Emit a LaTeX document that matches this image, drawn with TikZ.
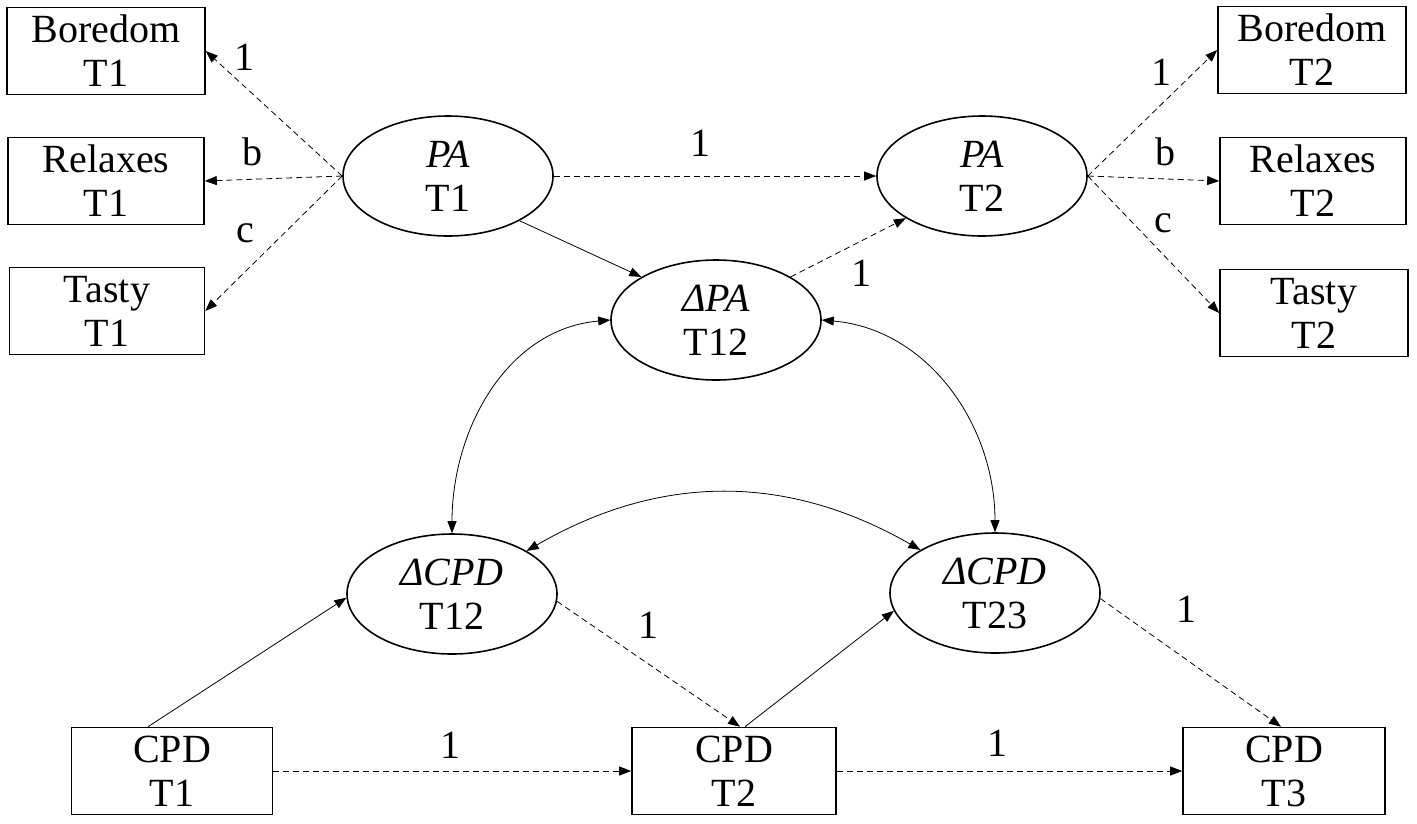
\documentclass[tikz,border=0pt]{standalone}
\usepackage{fontspec}
\setmainfont{Liberation Serif}
\newfontfamily\tnr{Liberation Serif}
\usetikzlibrary{arrows.meta,shapes.geometric}
\begin{document}
\begin{tikzpicture}[x=1pt,y=1pt,
  box/.style={draw,line width=1.6pt,minimum height=87pt,inner sep=0pt,align=center,font=\tnr\fontsize{40}{44}\selectfont},
  ellip/.style={draw,ellipse,line width=1.6pt,minimum width=210pt,minimum height=120pt,inner sep=0pt,align=center,font=\tnr\fontsize{40}{44}\selectfont},
  lab/.style={inner sep=0pt,font=\tnr\fontsize{40}{44}\selectfont},
  tip/.tip={Triangle[length=12pt,width=9pt]},
  dasharr/.style={dash pattern=on 6pt off 4pt,line width=0.8pt,-tip},
  solarr/.style={line width=0.8pt,-tip},
  biarr/.style={line width=0.8pt,tip-tip}]
\useasboundingbox (0,0) rectangle (1417,-823);
% observed boxes
\node[box,minimum width=198pt] (bor1) at (106,-51) {Boredom\\T1};
\node[box,minimum width=196pt] (rel1) at (106,-181) {Relaxes\\T1};
\node[box,minimum width=195pt] (tas1) at (107,-311) {Tasty\\T1};
\node[box,minimum width=188pt] (bor2) at (1312,-50) {Boredom\\T2};
\node[box,minimum width=186pt] (rel2) at (1313,-181) {Relaxes\\T2};
\node[box,minimum width=188pt] (tas2) at (1314,-313) {Tasty\\T2};
\node[box,minimum width=201pt] (cpd1) at (172,-771) {CPD\\T1};
\node[box,minimum width=204pt] (cpd2) at (734,-771) {CPD\\T2};
\node[box,minimum width=202pt] (cpd3) at (1284,-771) {CPD\\T3};
% latent ellipses
\node[ellip] (pa1) at (448,-176) {\textit{PA}\\T1};
\node[ellip] (pa2) at (982,-176) {\textit{PA}\\T2};
\node[ellip] (dpa) at (716,-320) {\textit{ΔPA}\\T12};
\node[ellip] (dcpd1) at (452,-594) {\textit{ΔCPD}\\T12};
\node[ellip] (dcpd2) at (995,-593) {\textit{ΔCPD}\\T23};
% loadings
\draw[dasharr] (pa1.west) -- (bor1.east);
\draw[dasharr] (pa1.west) -- (rel1.east);
\draw[dasharr] (pa1.west) -- (tas1.east);
\draw[dasharr] (pa2.east) -- (bor2.west);
\draw[dasharr] (pa2.east) -- (rel2.west);
\draw[dasharr] (pa2.east) -- (tas2.west);
\draw[dasharr] (pa1.east) -- (pa2.west);
\draw[solarr] (pa1.-32) -- (dpa.150);
\draw[dasharr] (dpa.30) -- (pa2.209);
% covariances
\draw[biarr] (dpa.west) to[out=185,in=90] (dcpd1.north);
\draw[biarr] (dpa.east) to[out=-5,in=90] (dcpd2.north);
\draw[biarr] (dcpd1.30) to[bend left=30] (dcpd2.150);
% CPD paths
\draw[solarr] ([xshift=-24pt]cpd1.north) -- (dcpd1.182);
\draw[dasharr] (dcpd1.-4) -- ([xshift=6pt]cpd2.north);
\draw[solarr] ([xshift=11pt]cpd2.north) -- (dcpd2.190);
\draw[dasharr] (dcpd2.-3) -- ([xshift=-3pt]cpd3.north);
\draw[dasharr] (cpd1.east) -- (cpd2.west);
\draw[dasharr] (cpd2.east) -- (cpd3.west);
% labels
\node[lab] (l1) at (244,-57) {1};
\node[lab] (l2) at (252,-152) {b};
\node[lab] (l3) at (245,-233) {c};
\node[lab] (l4) at (700,-143) {1};
\node[lab] (l5) at (1161,-72) {1};
\node[lab] (l6) at (1165,-152) {b};
\node[lab] (l7) at (1163,-223) {c};
\node[lab] (l8) at (861,-273) {1};
\node[lab] (l9) at (648,-625) {1};
\node[lab] (l10) at (1186,-609) {1};
\node[lab] (l11) at (450,-745) {1};
\node[lab] (l12) at (997,-743) {1};
\end{tikzpicture}
\end{document}
